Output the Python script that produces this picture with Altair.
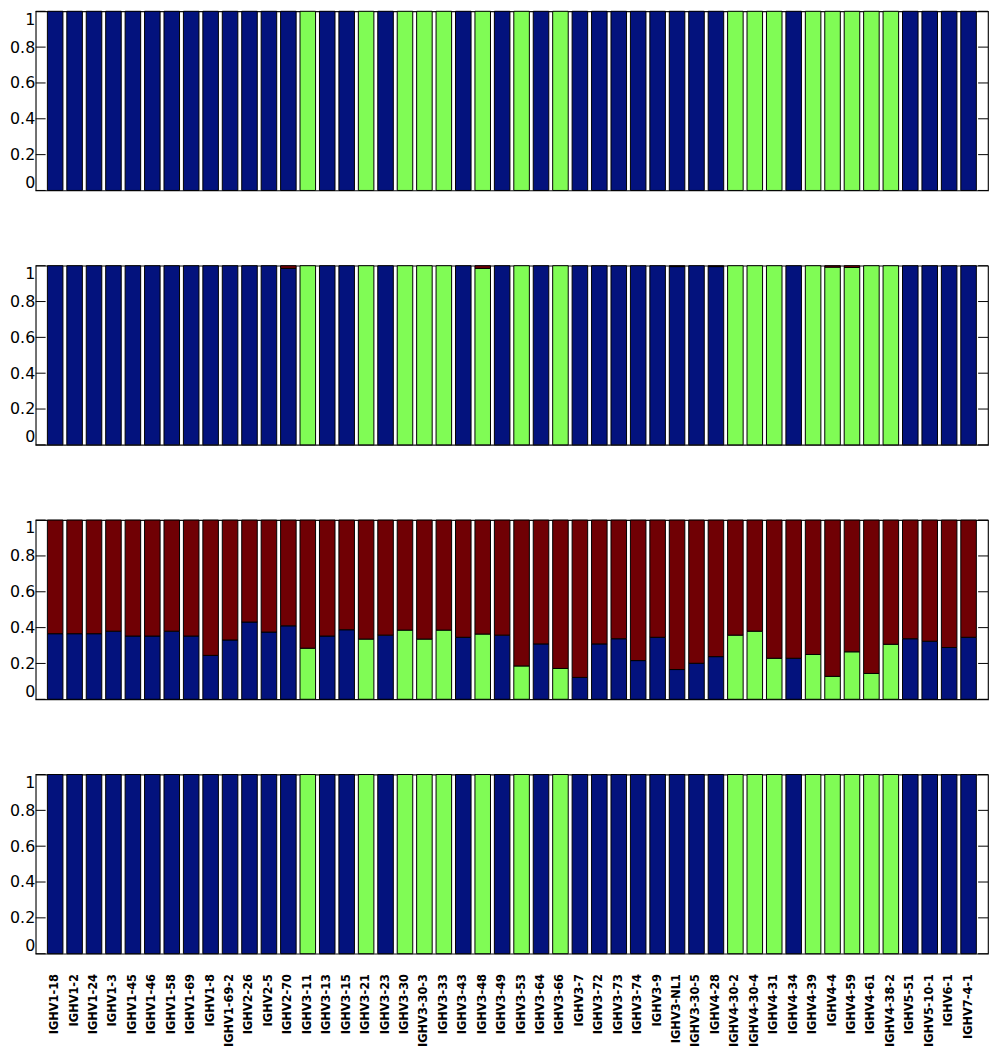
import altair as alt
import pandas as pd

categories = [
    "IGHV1-18", "IGHV1-2", "IGHV1-24", "IGHV1-3", "IGHV1-45", "IGHV1-46", "IGHV1-58",
    "IGHV1-69", "IGHV1-8", "IGHV1-69-2", "IGHV2-26", "IGHV2-5", "IGHV2-70", "IGHV3-11",
    "IGHV3-13", "IGHV3-15", "IGHV3-21", "IGHV3-23", "IGHV3-30", "IGHV3-30-3", "IGHV3-33",
    "IGHV3-43", "IGHV3-48", "IGHV3-49", "IGHV3-53", "IGHV3-64", "IGHV3-66", "IGHV3-7",
    "IGHV3-72", "IGHV3-73", "IGHV3-74", "IGHV3-9", "IGHV3-NL1", "IGHV3-30-5", "IGHV4-28",
    "IGHV4-30-2", "IGHV4-30-4", "IGHV4-31", "IGHV4-34", "IGHV4-39", "IGHV4-4", "IGHV4-59",
    "IGHV4-61", "IGHV4-38-2", "IGHV5-51", "IGHV5-10-1", "IGHV6-1", "IGHV7-4-1",
]

# Panel 1
p1_blue = [1, 1, 1, 1, 1, 1, 1, 1, 1, 1, 1, 1, 1, 0, 1, 1, 0, 1, 0, 0, 0, 1, 0, 1,
           0, 1, 0, 1, 1, 1, 1, 1, 1, 1, 1, 0, 0, 0, 1, 0, 0, 0, 0, 0, 1, 1, 1, 1]
p1_green = [0, 0, 0, 0, 0, 0, 0, 0, 0, 0, 0, 0, 0, 1, 0, 0, 1, 0, 1, 1, 1, 0, 1, 0,
            1, 0, 1, 0, 0, 0, 0, 0, 0, 0, 0, 1, 1, 1, 0, 1, 1, 1, 1, 1, 0, 0, 0, 0]
p1_red = [0] * 48

# Panel 2
p2_blue = [1, 1, 1, 1, 1, 1, 1, 1, 1, 1, 1, 1, 0.985, 0, 1, 1, 0, 1, 0, 0, 0, 1, 0, 1,
           0, 1, 0, 1, 1, 1, 1, 1, 0.995, 1, 0.995, 0, 0, 0, 1, 0, 0, 0, 0, 0, 1, 1, 1, 1]
p2_green = [0, 0, 0, 0, 0, 0, 0, 0, 0, 0, 0, 0, 0, 1, 0, 0, 1, 0, 1, 1, 1, 0, 0.985, 0,
            1, 0, 1, 0, 0, 0, 0, 0, 0, 0, 0, 1, 1, 1, 0, 1, 0.992, 0.99, 1, 1, 0, 0, 0, 0]
p2_red = [0, 0, 0, 0, 0, 0, 0, 0, 0, 0, 0, 0, 0.015, 0, 0, 0, 0, 0, 0, 0, 0, 0, 0.015, 0,
          0, 0, 0, 0, 0, 0, 0, 0, 0.005, 0, 0.005, 0, 0, 0, 0, 0, 0.008, 0.01, 0, 0, 0, 0, 0, 0]

# Panel 3
p3_blue = [0.366, 0.366, 0.366, 0.380, 0.353, 0.353, 0.380, 0.353, 0.245, 0.331, 0.431, 0.375,
           0.410, 0, 0.353, 0.388, 0, 0.358, 0, 0, 0, 0.346, 0, 0.358,
           0, 0.309, 0, 0.122, 0.309, 0.338, 0.216, 0.346, 0.166, 0.201, 0.238, 0,
           0, 0, 0.229, 0, 0, 0, 0, 0, 0.338, 0.324, 0.289, 0.346]
p3_green = [0, 0, 0, 0, 0, 0, 0, 0, 0, 0, 0, 0,
            0, 0.285, 0, 0, 0.336, 0, 0.386, 0.336, 0.386, 0, 0.364, 0,
            0.186, 0, 0.172, 0, 0, 0, 0, 0, 0, 0, 0, 0.358,
            0.380, 0.229, 0, 0.250, 0.128, 0.265, 0.144, 0.307, 0, 0, 0, 0]
p3_red = [0.634, 0.634, 0.634, 0.620, 0.647, 0.647, 0.620, 0.647, 0.755, 0.669, 0.569, 0.625,
          0.590, 0.715, 0.647, 0.612, 0.664, 0.642, 0.614, 0.664, 0.614, 0.654, 0.636, 0.642,
          0.814, 0.691, 0.828, 0.878, 0.691, 0.662, 0.784, 0.654, 0.834, 0.799, 0.762, 0.642,
          0.620, 0.771, 0.771, 0.750, 0.872, 0.735, 0.856, 0.693, 0.662, 0.676, 0.711, 0.654]

# Panel 4
p4_blue = [1, 1, 1, 1, 1, 1, 1, 1, 1, 1, 1, 1, 1, 0, 1, 1, 0, 1, 0, 0, 0, 1, 0, 1,
           0, 1, 0, 1, 1, 1, 1, 1, 1, 1, 1, 0, 0, 0, 1, 0, 0, 0, 0, 0, 1, 1, 1, 1]
p4_green = [0, 0, 0, 0, 0, 0, 0, 0, 0, 0, 0, 0, 0, 1, 0, 0, 1, 0, 1, 1, 1, 0, 1, 0,
            1, 0, 1, 0, 0, 0, 0, 0, 0, 0, 0, 1, 1, 1, 0, 1, 1, 1, 1, 1, 0, 0, 0, 0]
p4_red = [0] * 48

clusters = ["blue", "green", "red"]
cluster_colors = ["#03127d", "#80fc55", "#700004"]
y_ticks = [0, 0.2, 0.4, 0.6, 0.8, 1]

panels = [
    (p1_blue, p1_green, p1_red),
    (p2_blue, p2_green, p2_red),
    (p3_blue, p3_green, p3_red),
    (p4_blue, p4_green, p4_red),
]

rows = []
for p, series in enumerate(panels):
    for i, cat in enumerate(categories):
        for k, (name, vals) in enumerate(zip(clusters, series)):
            if vals[i] > 0:
                rows.append({"panel": p, "cat": cat, "cluster": name, "ord": k, "value": vals[i]})
df = pd.DataFrame(rows)
tick_df = pd.DataFrame({"value": y_ticks})

W = 962
H = 181
TICK = 10


def make_panel(p, show_x):
    if show_x:
        xaxis = alt.Axis(
            title=None, labelAngle=-90, ticks=False, domain=False, labelPadding=20,
            labelFont="DejaVu Sans", labelFontSize=11.5, labelFontWeight="bold",
            labelColor="black",
        )
    else:
        xaxis = None
    yscale = alt.Scale(domain=[0, 1], nice=False, zero=True)
    yaxis = alt.Axis(title=None, values=y_ticks, format="~g", ticks=False, domain=False,
                     grid=False, labelPadding=1, labelFlush=True,
                     labelFont="DejaVu Sans", labelFontSize=16, labelColor="black")

    bars = alt.Chart(df[df["panel"] == p]).mark_bar(stroke="black", strokeWidth=1).encode(
        x=alt.X("cat:N", sort=categories,
                scale=alt.Scale(paddingInner=0.2, paddingOuter=0.6), axis=xaxis),
        y=alt.Y("value:Q", stack="zero", scale=yscale, axis=yaxis),
        color=alt.Color("cluster:N", scale=alt.Scale(domain=clusters, range=cluster_colors),
                        legend=None),
        order=alt.Order("ord:Q"),
    )
    ticks_l = alt.Chart(tick_df).mark_rule(color="black", strokeWidth=1).encode(
        y=alt.Y("value:Q", scale=yscale, axis=yaxis),
        x=alt.value(0), x2=alt.value(TICK),
    )
    ticks_r = alt.Chart(tick_df).mark_rule(color="black", strokeWidth=1).encode(
        y=alt.Y("value:Q", scale=yscale, axis=yaxis),
        x=alt.value(W - TICK), x2=alt.value(W),
    )
    return alt.layer(ticks_l, ticks_r, bars).properties(width=W, height=H)


chart = alt.vconcat(
    make_panel(0, False),
    make_panel(1, False),
    make_panel(2, False),
    make_panel(3, True),
    spacing=72,
).properties(
    padding={"left": 0, "top": -4, "right": 0, "bottom": 0},
    background="white",
).configure_view(
    stroke="#111", strokeWidth=1.2
)

chart.save("out.html", embed_options={"renderer": "svg", "actions": False})
